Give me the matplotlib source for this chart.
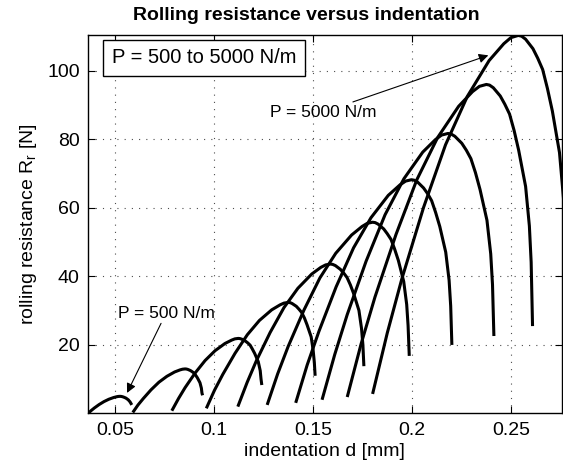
import matplotlib
matplotlib.use("Agg")
import matplotlib.pyplot as plt

plt.rcParams['font.family'] = ['Liberation Sans', 'DejaVu Sans']
plt.rcParams['mathtext.default'] = 'regular'

# indentation d [mm] and rolling resistance R_r [N], one pair per load P
loads = [500, 1000, 1500, 2000, 2500, 3000, 3500, 4000, 4500, 5000]

d500 = [.0364, .0380, .0396, .0420, .0445, .0469, .0493, .0509, .0517, .0525, .0529, .0534, .0543, .0555, .0567, .0576, .0585]
r500 = [0, .85, 1.6, 2.6, 3.48, 4.15, 4.65, 4.89, 4.97, 5.0, 4.99, 4.95, 4.8, 4.5, 4.0, 3.4, 2.5]

d1000 = [.0590, .0616, .0643, .0682, .0722, .0762, .0801, .0828, .0841, .0854, .0860, .0867, .0880, .0889,
         .0898, .0907, .0916, .0929, .0936, .0939, .0942]
r1000 = [.3, 2.46, 4.36, 6.90, 9.13, 10.84, 12.11, 12.71, 12.92, 13.0, 12.97, 12.87, 12.55, 12.22,
         11.83, 11.18, 10.40, 8.97, 7.41, 5.98, 5.3]

d1500 = [.0787, .0821, .0854, .0904, .0955, .1005, .1055, .1089, .1105, .1122, .1130, .1140, .1158, .1170,
         .1182, .1193, .1205, .1223, .1233, .1237, .1241]
r1500 = [.8, 4.39, 7.55, 11.77, 15.46, 18.31, 20.42, 21.41, 21.77, 21.9, 21.86, 21.68, 21.13, 20.59,
         19.93, 18.83, 17.52, 15.11, 12.48, 10.07, 8.3]

d2000 = [.0961, .1002, .1044, .1106, .1168, .1229, .1291, .1333, .1353, .1374, .1384, .1394, .1415, .1428,
         .1442, .1456, .1469, .1490, .1500, .1506, .1510]
r2000 = [1.5, 6.75, 11.39, 17.57, 22.98, 27.15, 30.24, 31.69, 32.21, 32.4, 32.34, 32.08, 31.27, 30.46,
         29.48, 27.86, 25.92, 22.36, 18.47, 14.90, 11.0]

d2500 = [.1120, .1167, .1213, .1283, .1353, .1423, .1493, .1539, .1563, .1586, .1598, .1612, .1637, .1654,
         .1671, .1688, .1705, .1731, .1744, .1751, .1756]
r2500 = [2.0, 9.07, 15.31, 23.63, 30.91, 36.53, 40.69, 42.64, 43.35, 43.6, 43.51, 43.16, 42.07, 40.98,
         39.68, 37.50, 34.88, 30.08, 24.85, 20.06, 13.8]

d3000 = [.1268, .1321, .1374, .1454, .1534, .1614, .1694, .1747, .1773, .1800, .1813, .1828, .1856, .1874,
         .1893, .1911, .1930, .1957, .1972, .1979, .1985]
r3000 = [2.5, 11.56, 19.56, 30.22, 39.54, 46.74, 52.07, 54.57, 55.48, 55.8, 55.69, 55.24, 53.85, 52.45,
         50.78, 47.99, 44.64, 38.50, 31.81, 25.67, 16.8]

d3500 = [.1412, .1470, .1529, .1616, .1704, .1792, .1879, .1938, .1967, .1996, .2010, .2027, .2057, .2078,
         .2098, .2118, .2139, .2169, .2186, .2194, .2200]
r3500 = [3.1, 14.17, 23.93, 36.95, 48.34, 57.13, 63.64, 66.70, 67.81, 68.2, 68.06, 67.52, 65.81, 64.11,
         62.06, 58.65, 54.56, 47.06, 38.87, 31.37, 20.0]

d4000 = [.1545, .1609, .1672, .1767, .1863, .1958, .2053, .2117, .2148, .2180, .2196, .2215, .2250, .2273,
         .2296, .2319, .2342, .2377, .2396, .2405, .2412]
r4000 = [4.0, 17.21, 28.86, 44.40, 58.00, 68.49, 76.26, 79.91, 81.23, 81.7, 81.54, 80.88, 78.84, 76.80,
         74.35, 70.26, 65.36, 56.37, 46.57, 37.58, 22.6]

d4500 = [.1672, .1742, .1812, .1918, .2023, .2128, .2234, .2304, .2339, .2374, .2390, .2409, .2444, .2467,
         .2491, .2514, .2537, .2572, .2591, .2600, .2607]
r4500 = [4.8, 20.30, 33.98, 52.22, 68.18, 80.50, 89.62, 93.90, 95.45, 96.0, 95.81, 95.04, 92.64, 90.24,
         87.36, 82.56, 76.80, 66.24, 54.72, 44.16, 25.5]

d5000 = [.1800, .1874, .1947, .2057, .2168, .2278, .2388, .2462, .2498, .2535, .2552, .2572, .2609, .2633,
         .2658, .2682, .2707, .2743, .2763, .2773, .2780]
r5000 = [5.7, 23.48, 39.17, 60.09, 78.40, 92.52, 102.98, 107.89, 109.67, 110.3, 110.08, 109.2, 106.44, 103.68,
         100.37, 94.86, 88.24, 76.11, 62.87, 50.74, 29.0]

xticks = [0.05, 0.1, 0.15, 0.2, 0.25]
xticklabels = ['0.05', '0.1', '0.15', '0.2', '0.25']
yticks = [20, 40, 60, 80, 100]

curves = [(d500, r500), (d1000, r1000), (d1500, r1500), (d2000, r2000), (d2500, r2500),
          (d3000, r3000), (d3500, r3500), (d4000, r4000), (d4500, r4500), (d5000, r5000)]

fig = plt.figure(figsize=(5.63, 4.68), dpi=100)
ax = fig.add_axes([0.1563, 0.1165, 0.8417, 0.8085])

for d, r in curves:
    ax.plot(d, r, color='black', lw=2.2, solid_capstyle='butt', solid_joinstyle='round')

ax.set_xlim(0.0364, 0.2755)
ax.set_ylim(0, 110.4)
ax.set_xticks(xticks)
ax.set_xticklabels(xticklabels)
ax.set_yticks(yticks)
ax.tick_params(direction='in', top=True, right=True, labelsize=14, length=5, width=0.8, pad=6)
ax.grid(True, color='0.3', linestyle=(0, (1, 5.5)), lw=0.8)
for s in ax.spines.values():
    s.set_linewidth(1.0)

ax.set_xlabel('indentation d [mm]', fontsize=14, labelpad=3)
ax.set_ylabel('rolling resistance R$_r$ [N]', fontsize=14, labelpad=6)
ax.set_title('Rolling resistance versus indentation', fontsize=14, fontweight='bold', pad=11, x=0.46)

ax.text(0.2447, 0.94, 'P = 500 to 5000 N/m', transform=ax.transAxes, fontsize=14.5,
        ha='center', va='center',
        bbox=dict(boxstyle='square,pad=0.42', fc='white', ec='black', lw=1.0))

arrow = dict(arrowstyle='-|>', color='black', lw=0.8, mutation_scale=14, shrinkA=0, shrinkB=0)
ax.annotate('P = 5000 N/m', xy=(0.2384, 104.5), xytext=(0.155, 87.9), fontsize=12.5,
            ha='center', va='center', arrowprops=arrow)
ax.annotate('P = 500 N/m', xy=(0.0561, 6.0), xytext=(0.0758, 29.3), fontsize=12.5,
            ha='center', va='center', arrowprops=arrow)

fig.savefig('out.png', dpi=100)
